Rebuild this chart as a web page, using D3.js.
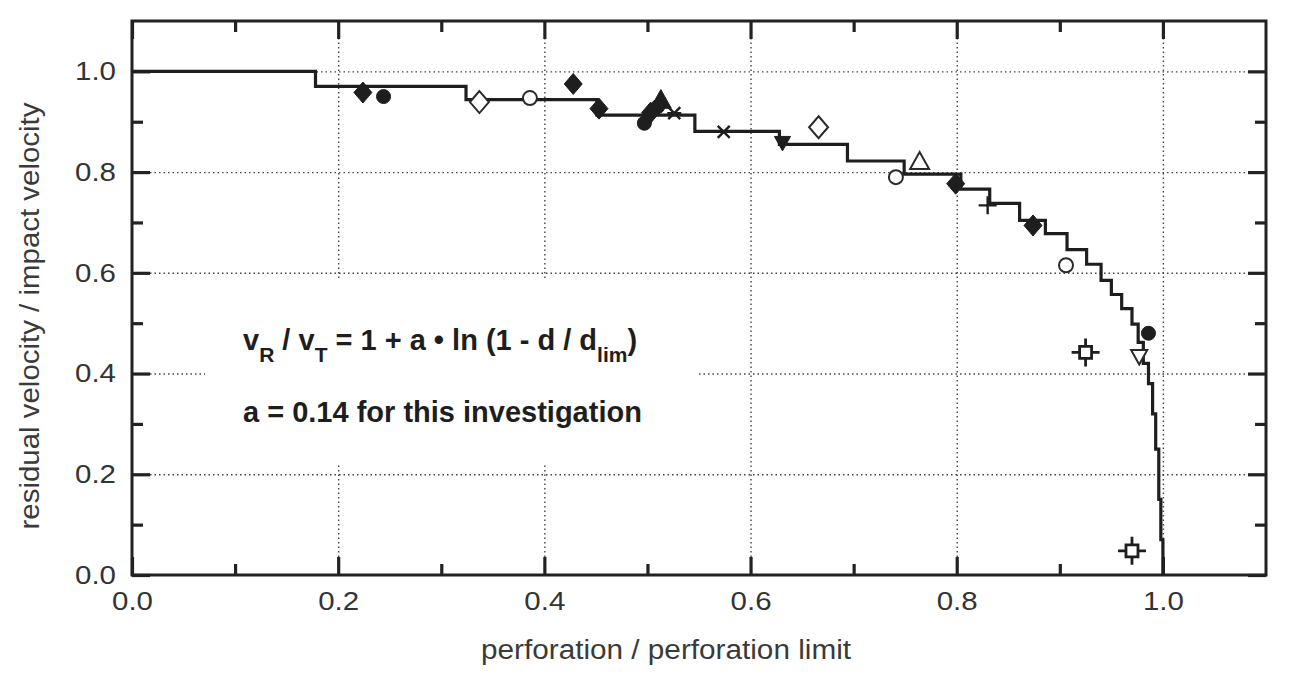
<!DOCTYPE html>
<html>
  <head>
    <meta charset="utf-8">
    <style>
      body { margin: 0; background: #fff; font-family: "Liberation Sans", Arial, sans-serif; }
      .frame { fill: none; stroke: #222; stroke-width: 3; }
      .grid line { stroke: #444; stroke-width: 1.4; stroke-dasharray: 1.5,3; }
      .grid path { display: none; }
      .axis path { display: none; }
      .axis line { stroke: #222; stroke-width: 3.2; }
      .axis text { font-size: 26px; fill: #333; font-family: "Liberation Sans", Arial, sans-serif; }
      .title { font-size: 27px; fill: #3a3a3a; }
      .note { font-size: 29px; font-weight: bold; fill: #1e1e1e; }
      .step { fill: none; stroke: #1e1e1e; stroke-width: 3.2; }
    </style>
  </head>
  <body>
    <script src="https://d3js.org/d3.v7.min.js"></script>
    <script>
      // tick values
      var xMajor = [0, 0.2, 0.4, 0.6, 0.8, 1.0],
          xMinor = [0.1, 0.3, 0.5, 0.7, 0.9],
          yMajor = [0, 0.2, 0.4, 0.6, 0.8, 1.0],
          yMinor = [0.1, 0.3, 0.5, 0.7, 0.9],
          xGrid = [0.2, 0.4, 0.6, 0.8, 1.0],
          yGrid = [0.2, 0.4, 0.6, 0.8, 1.0];

      // stepped model curve, each point starts a new step
      var stepCurve = [
        [0, 1.0], [0.178, 0.970], [0.324, 0.944], [0.451, 0.913], [0.546, 0.881],
        [0.628, 0.855], [0.694, 0.822], [0.749, 0.796], [0.804, 0.766], [0.832, 0.738],
        [0.861, 0.704], [0.886, 0.678], [0.907, 0.646], [0.926, 0.617], [0.940, 0.585],
        [0.950, 0.557], [0.960, 0.529], [0.970, 0.498], [0.976, 0.462], [0.981, 0.42],
        [0.986, 0.38], [0.990, 0.32], [0.993, 0.25], [0.996, 0.15], [0.998, 0.07], [1.0, 0.0]
      ];

      // measured points, one list per symbol
      var filledCircle = [[0.244, 0.950], [0.497, 0.897], [0.510, 0.930], [0.986, 0.480]],
          filledDiamond = [[0.224, 0.958], [0.428, 0.975], [0.453, 0.926], [0.503, 0.918], [0.799, 0.777], [0.874, 0.694]],
          openCircle = [[0.386, 0.947], [0.741, 0.790], [0.906, 0.615]],
          openDiamond = [[0.337, 0.939], [0.666, 0.889]],
          filledTriUp = [[0.513, 0.942]],
          filledTriDown = [[0.631, 0.859]],
          openTriUp = [[0.764, 0.820]],
          openTriDown = [[0.977, 0.435]],
          asterisk = [[0.526, 0.917], [0.574, 0.880]],
          plusMark = [[0.830, 0.734]],
          crossSquare = [[0.925, 0.442], [0.970, 0.048]];

      var W = 1289, H = 676;
      var margin = {top: 21, right: 23, bottom: 101, left: 132},
          width = W - margin.left - margin.right,
          height = H - margin.top - margin.bottom;

      var svg = d3.select("body").append("svg")
          .attr("width", W)
          .attr("height", H);
      var g = svg.append("g")
          .attr("transform", "translate(" + margin.left + "," + margin.top + ")");

      var x = d3.scaleLinear().domain([0, 1.1]).range([0, width]);
      var y = d3.scaleLinear().domain([0, 1.1]).range([height, 0]);

      // dotted grid
      g.append("g").attr("class", "grid")
          .attr("transform", "translate(0," + height + ")")
          .call(d3.axisBottom(x).tickValues(xGrid).tickSize(-height).tickFormat(""));
      g.append("g").attr("class", "grid")
          .call(d3.axisLeft(y).tickValues(yGrid).tickSize(-width).tickFormat(""));

      // white box behind the formula hides the grid there
      g.append("rect")
          .attr("x", 205 - margin.left).attr("y", 280 - margin.top)
          .attr("width", 492).attr("height", 183)
          .attr("fill", "#fff");

      // ticks on all four sides, pointing inward
      function ticks(axisFn, vals, len, tr, labels, pad) {
        var a = axisFn.tickValues(vals).tickSize(-len).tickPadding(pad || 0);
        a.tickFormat(labels ? d3.format(".1f") : "");
        var gg = g.append("g").attr("class", "axis");
        if (tr) gg.attr("transform", tr);
        gg.call(a);
        if (labels) {
          gg.selectAll("text")
              .attr("textLength", 41)
              .attr("lengthAdjust", "spacingAndGlyphs");
        }
        return gg;
      }
      ticks(d3.axisBottom(x), xMajor, 18, "translate(0," + height + ")", true, 17);
      ticks(d3.axisBottom(x), xMinor, 11, "translate(0," + height + ")", false);
      ticks(d3.axisTop(x), xMajor, 18, null, false);
      ticks(d3.axisTop(x), xMinor, 11, null, false);
      ticks(d3.axisLeft(y), yMajor, 18, null, true, 16);
      ticks(d3.axisLeft(y), yMinor, 11, null, false);
      ticks(d3.axisRight(y), yMajor, 18, "translate(" + width + ",0)", false);
      ticks(d3.axisRight(y), yMinor, 11, "translate(" + width + ",0)", false);

      // frame
      g.append("rect").attr("class", "frame")
          .attr("width", width).attr("height", height);

      // step curve
      var line = d3.line()
          .x(function(d) { return x(d[0]); })
          .y(function(d) { return y(d[1]); })
          .curve(d3.curveStepAfter);
      g.append("path").attr("class", "step").attr("d", line(stepCurve));

      // symbol shapes
      function diamond(w, h) {
        return "M0," + (-h) + "L" + w + ",0L0," + h + "L" + (-w) + ",0Z";
      }
      function tri(s, down) {
        var k = down ? -1 : 1;
        return "M0," + (-k * s) + "L" + (s * 0.95) + "," + (k * s * 0.7) + "L" + (-s * 0.95) + "," + (k * s * 0.7) + "Z";
      }
      function circle(r) {
        return "M" + r + ",0A" + r + "," + r + " 0 1,1 " + (-r) + ",0A" + r + "," + r + " 0 1,1 " + r + ",0Z";
      }

      function addMarks(data, pathStr, fill, stroke, sw) {
        g.append("g").selectAll("path")
            .data(data)
          .enter().append("path")
            .attr("transform", function(d) { return "translate(" + x(d[0]) + "," + y(d[1]) + ")"; })
            .attr("d", pathStr)
            .attr("fill", fill)
            .attr("stroke", stroke)
            .attr("stroke-width", sw);
      }

      addMarks(filledCircle, circle(7), "#1e1e1e", "#1e1e1e", 1);
      addMarks(filledDiamond, diamond(9, 10.5), "#1e1e1e", "#1e1e1e", 1);
      addMarks(openCircle, circle(7), "#fff", "#2a2a2a", 2);
      addMarks(openDiamond, diamond(9.5, 11), "#fff", "#2a2a2a", 2);
      addMarks(filledTriUp, tri(11, false), "#1e1e1e", "#1e1e1e", 1);
      addMarks(filledTriDown, tri(8.5, true), "#1e1e1e", "#1e1e1e", 1);
      addMarks(openTriUp, tri(10, false), "#fff", "#2a2a2a", 2);
      addMarks(openTriDown, tri(8.5, true), "#fff", "#2a2a2a", 2);
      addMarks(asterisk, "M-6,-6L6,6M-6,6L6,-6M-7,0L7,0", "none", "#1e1e1e", 2.4);
      addMarks(plusMark, "M-9,0L9,0M0,-9L0,9", "none", "#1e1e1e", 2.4);
      addMarks(crossSquare, "M-14,0L14,0M0,-14L0,14", "none", "#1e1e1e", 2.8);
      addMarks(crossSquare, "M-6,-6L6,-6L6,6L-6,6Z", "#fff", "#1e1e1e", 2.8);

      // axis titles
      svg.append("text").attr("class", "title")
          .attr("x", 666).attr("y", 659)
          .attr("text-anchor", "middle")
          .attr("textLength", 370)
          .attr("lengthAdjust", "spacingAndGlyphs")
          .text("perforation / perforation limit");
      svg.append("text").attr("class", "title")
          .attr("transform", "translate(39,316) rotate(-90)")
          .attr("text-anchor", "middle")
          .attr("textLength", 427)
          .attr("lengthAdjust", "spacingAndGlyphs")
          .text("residual velocity / impact velocity");

      // formula
      var f = svg.append("text").attr("class", "note")
          .attr("x", 243).attr("y", 350);
      var parts = [["v", 0], ["R", 1], [" / v", 0], ["T", 1], [" = 1 + a \u2022 ln (1 - d / d", 0], ["lim", 1], [")", 0]];
      parts.forEach(function(p, i) {
        var t = f.append("tspan").text(p[0]);
        if (p[1]) t.attr("dy", 12).style("font-size", "21px");
        else t.attr("dy", i > 0 && parts[i - 1][1] ? -12 : 0);
      });
      svg.append("text").attr("class", "note")
          .attr("x", 243).attr("y", 422)
          .text("a = 0.14 for this investigation");
    </script>
  </body>
</html>
